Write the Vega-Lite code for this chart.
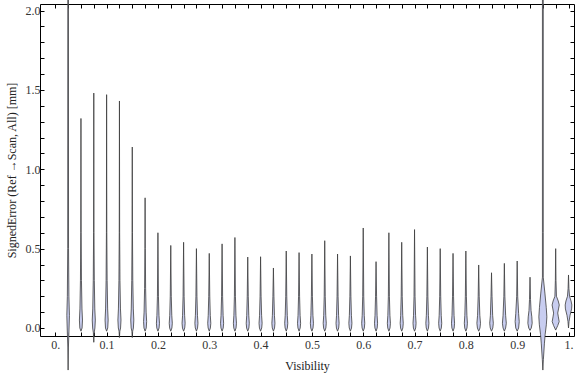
{
 "$schema": "https://vega.github.io/schema/vega-lite/v6.json",
 "width": 534, "height": 332,
 "autosize": "none",
 "padding": {"left": 40, "top": 4, "right": 2, "bottom": 39},
 "background": "white",
 "config": {"view": {"stroke": null}, "font": "Liberation Serif"},
 "datasets": {"violins": [
  {"v":0.025,"e":-0.265,"d":0},{"v":0.025,"e":-0.12,"d":0.0006},{"v":0.025,"e":0,"d":0.0018},{"v":0.025,"e":0.08,"d":0.0025},{"v":0.025,"e":0.2,"d":0.0015},{"v":0.025,"e":0.5,"d":0.0008},{"v":0.025,"e":2.07,"d":0.0006},
  {"v":0.05,"e":-0.02,"d":0},{"v":0.05,"e":0,"d":0.0022},{"v":0.05,"e":0.05,"d":0.003},{"v":0.05,"e":0.12,"d":0.002},{"v":0.05,"e":0.3,"d":0.001},{"v":0.05,"e":0.6,"d":0.0004},{"v":0.05,"e":1.32,"d":0},
  {"v":0.075,"e":-0.09,"d":0},{"v":0.075,"e":-0.03,"d":0.0008},{"v":0.075,"e":0,"d":0.0022},{"v":0.075,"e":0.05,"d":0.003},{"v":0.075,"e":0.12,"d":0.002},{"v":0.075,"e":0.3,"d":0.001},{"v":0.075,"e":0.6,"d":0.0004},{"v":0.075,"e":1.48,"d":0},
  {"v":0.1,"e":-0.02,"d":0},{"v":0.1,"e":0,"d":0.0022},{"v":0.1,"e":0.05,"d":0.003},{"v":0.1,"e":0.12,"d":0.002},{"v":0.1,"e":0.3,"d":0.001},{"v":0.1,"e":0.6,"d":0.0004},{"v":0.1,"e":1.47,"d":0},
  {"v":0.125,"e":-0.06,"d":0},{"v":0.125,"e":-0.02,"d":0.0008},{"v":0.125,"e":0,"d":0.0022},{"v":0.125,"e":0.05,"d":0.003},{"v":0.125,"e":0.12,"d":0.002},{"v":0.125,"e":0.3,"d":0.001},{"v":0.125,"e":0.6,"d":0.0004},{"v":0.125,"e":1.43,"d":0},
  {"v":0.15,"e":-0.06,"d":0},{"v":0.15,"e":-0.02,"d":0.0008},{"v":0.15,"e":0,"d":0.0022},{"v":0.15,"e":0.05,"d":0.003},{"v":0.15,"e":0.12,"d":0.002},{"v":0.15,"e":0.3,"d":0.001},{"v":0.15,"e":0.6,"d":0.0004},{"v":0.15,"e":1.14,"d":0},
  {"v":0.175,"e":-0.02,"d":0},{"v":0.175,"e":0,"d":0.0022},{"v":0.175,"e":0.04,"d":0.003},{"v":0.175,"e":0.1,"d":0.002},{"v":0.175,"e":0.25,"d":0.001},{"v":0.175,"e":0.5,"d":0.0004},{"v":0.175,"e":0.82,"d":0},
  {"v":0.2,"e":-0.02,"d":0},{"v":0.2,"e":0,"d":0.0022},{"v":0.2,"e":0.03,"d":0.003},{"v":0.2,"e":0.08,"d":0.002},{"v":0.2,"e":0.2,"d":0.001},{"v":0.2,"e":0.6,"d":0},
  {"v":0.225,"e":-0.02,"d":0},{"v":0.225,"e":0,"d":0.0022},{"v":0.225,"e":0.03,"d":0.003},{"v":0.225,"e":0.08,"d":0.002},{"v":0.225,"e":0.2,"d":0.001},{"v":0.225,"e":0.52,"d":0},
  {"v":0.25,"e":-0.02,"d":0},{"v":0.25,"e":0,"d":0.0022},{"v":0.25,"e":0.03,"d":0.003},{"v":0.25,"e":0.08,"d":0.002},{"v":0.25,"e":0.2,"d":0.001},{"v":0.25,"e":0.54,"d":0},
  {"v":0.275,"e":-0.02,"d":0},{"v":0.275,"e":0,"d":0.0022},{"v":0.275,"e":0.03,"d":0.003},{"v":0.275,"e":0.08,"d":0.002},{"v":0.275,"e":0.2,"d":0.001},{"v":0.275,"e":0.5,"d":0},
  {"v":0.3,"e":-0.02,"d":0},{"v":0.3,"e":0,"d":0.0022},{"v":0.3,"e":0.03,"d":0.003},{"v":0.3,"e":0.08,"d":0.002},{"v":0.3,"e":0.2,"d":0.001},{"v":0.3,"e":0.47,"d":0},
  {"v":0.325,"e":-0.02,"d":0},{"v":0.325,"e":0,"d":0.0022},{"v":0.325,"e":0.03,"d":0.003},{"v":0.325,"e":0.08,"d":0.002},{"v":0.325,"e":0.2,"d":0.001},{"v":0.325,"e":0.53,"d":0},
  {"v":0.35,"e":-0.02,"d":0},{"v":0.35,"e":0,"d":0.0022},{"v":0.35,"e":0.03,"d":0.003},{"v":0.35,"e":0.08,"d":0.002},{"v":0.35,"e":0.2,"d":0.001},{"v":0.35,"e":0.57,"d":0},
  {"v":0.375,"e":-0.02,"d":0},{"v":0.375,"e":0,"d":0.0022},{"v":0.375,"e":0.03,"d":0.003},{"v":0.375,"e":0.08,"d":0.002},{"v":0.375,"e":0.2,"d":0.001},{"v":0.375,"e":0.447,"d":0},
  {"v":0.4,"e":-0.02,"d":0},{"v":0.4,"e":0,"d":0.0022},{"v":0.4,"e":0.03,"d":0.003},{"v":0.4,"e":0.08,"d":0.002},{"v":0.4,"e":0.2,"d":0.001},{"v":0.4,"e":0.449,"d":0},
  {"v":0.425,"e":-0.02,"d":0},{"v":0.425,"e":0,"d":0.0022},{"v":0.425,"e":0.03,"d":0.003},{"v":0.425,"e":0.08,"d":0.002},{"v":0.425,"e":0.2,"d":0.001},{"v":0.425,"e":0.378,"d":0},
  {"v":0.45,"e":-0.02,"d":0},{"v":0.45,"e":0,"d":0.0022},{"v":0.45,"e":0.03,"d":0.003},{"v":0.45,"e":0.08,"d":0.002},{"v":0.45,"e":0.2,"d":0.001},{"v":0.45,"e":0.485,"d":0},
  {"v":0.475,"e":-0.02,"d":0},{"v":0.475,"e":0,"d":0.0022},{"v":0.475,"e":0.03,"d":0.003},{"v":0.475,"e":0.08,"d":0.002},{"v":0.475,"e":0.2,"d":0.001},{"v":0.475,"e":0.475,"d":0},
  {"v":0.5,"e":-0.02,"d":0},{"v":0.5,"e":0,"d":0.0022},{"v":0.5,"e":0.03,"d":0.003},{"v":0.5,"e":0.08,"d":0.002},{"v":0.5,"e":0.2,"d":0.001},{"v":0.5,"e":0.466,"d":0},
  {"v":0.525,"e":-0.02,"d":0},{"v":0.525,"e":0,"d":0.0022},{"v":0.525,"e":0.03,"d":0.003},{"v":0.525,"e":0.08,"d":0.002},{"v":0.525,"e":0.2,"d":0.001},{"v":0.525,"e":0.55,"d":0},
  {"v":0.55,"e":-0.02,"d":0},{"v":0.55,"e":0,"d":0.0022},{"v":0.55,"e":0.03,"d":0.003},{"v":0.55,"e":0.08,"d":0.002},{"v":0.55,"e":0.2,"d":0.001},{"v":0.55,"e":0.466,"d":0},
  {"v":0.575,"e":-0.02,"d":0},{"v":0.575,"e":0,"d":0.0022},{"v":0.575,"e":0.03,"d":0.003},{"v":0.575,"e":0.08,"d":0.002},{"v":0.575,"e":0.2,"d":0.001},{"v":0.575,"e":0.454,"d":0},
  {"v":0.6,"e":-0.02,"d":0},{"v":0.6,"e":0,"d":0.0022},{"v":0.6,"e":0.03,"d":0.003},{"v":0.6,"e":0.08,"d":0.002},{"v":0.6,"e":0.2,"d":0.001},{"v":0.6,"e":0.63,"d":0},
  {"v":0.625,"e":-0.02,"d":0},{"v":0.625,"e":0,"d":0.0022},{"v":0.625,"e":0.03,"d":0.003},{"v":0.625,"e":0.08,"d":0.002},{"v":0.625,"e":0.2,"d":0.001},{"v":0.625,"e":0.418,"d":0},
  {"v":0.65,"e":-0.02,"d":0},{"v":0.65,"e":0,"d":0.0022},{"v":0.65,"e":0.03,"d":0.003},{"v":0.65,"e":0.08,"d":0.002},{"v":0.65,"e":0.2,"d":0.001},{"v":0.65,"e":0.6,"d":0},
  {"v":0.675,"e":-0.02,"d":0},{"v":0.675,"e":0,"d":0.0022},{"v":0.675,"e":0.03,"d":0.003},{"v":0.675,"e":0.08,"d":0.002},{"v":0.675,"e":0.2,"d":0.001},{"v":0.675,"e":0.54,"d":0},
  {"v":0.7,"e":-0.02,"d":0},{"v":0.7,"e":0,"d":0.0022},{"v":0.7,"e":0.03,"d":0.003},{"v":0.7,"e":0.08,"d":0.002},{"v":0.7,"e":0.2,"d":0.001},{"v":0.7,"e":0.62,"d":0},
  {"v":0.725,"e":-0.02,"d":0},{"v":0.725,"e":0,"d":0.0022},{"v":0.725,"e":0.03,"d":0.003},{"v":0.725,"e":0.08,"d":0.002},{"v":0.725,"e":0.2,"d":0.001},{"v":0.725,"e":0.51,"d":0},
  {"v":0.75,"e":-0.02,"d":0},{"v":0.75,"e":0,"d":0.0022},{"v":0.75,"e":0.03,"d":0.003},{"v":0.75,"e":0.08,"d":0.002},{"v":0.75,"e":0.2,"d":0.001},{"v":0.75,"e":0.5,"d":0},
  {"v":0.775,"e":-0.02,"d":0},{"v":0.775,"e":0,"d":0.0022},{"v":0.775,"e":0.03,"d":0.003},{"v":0.775,"e":0.08,"d":0.002},{"v":0.775,"e":0.2,"d":0.001},{"v":0.775,"e":0.47,"d":0},
  {"v":0.8,"e":-0.02,"d":0},{"v":0.8,"e":0,"d":0.0022},{"v":0.8,"e":0.03,"d":0.003},{"v":0.8,"e":0.08,"d":0.002},{"v":0.8,"e":0.2,"d":0.001},{"v":0.8,"e":0.485,"d":0},
  {"v":0.825,"e":-0.02,"d":0},{"v":0.825,"e":0,"d":0.0025},{"v":0.825,"e":0.03,"d":0.0035},{"v":0.825,"e":0.08,"d":0.0022},{"v":0.825,"e":0.2,"d":0.001},{"v":0.825,"e":0.397,"d":0},
  {"v":0.85,"e":-0.02,"d":0},{"v":0.85,"e":0,"d":0.0025},{"v":0.85,"e":0.03,"d":0.0035},{"v":0.85,"e":0.08,"d":0.0022},{"v":0.85,"e":0.2,"d":0.001},{"v":0.85,"e":0.348,"d":0},
  {"v":0.875,"e":-0.02,"d":0},{"v":0.875,"e":0,"d":0.0025},{"v":0.875,"e":0.03,"d":0.0038},{"v":0.875,"e":0.08,"d":0.0025},{"v":0.875,"e":0.2,"d":0.001},{"v":0.875,"e":0.407,"d":0},
  {"v":0.9,"e":-0.02,"d":0},{"v":0.9,"e":0,"d":0.0028},{"v":0.9,"e":0.04,"d":0.004},{"v":0.9,"e":0.09,"d":0.0028},{"v":0.9,"e":0.2,"d":0.001},{"v":0.9,"e":0.422,"d":0},
  {"v":0.925,"e":-0.015,"d":0},{"v":0.925,"e":0,"d":0.0025},{"v":0.925,"e":0.03,"d":0.0042},{"v":0.925,"e":0.07,"d":0.0035},{"v":0.925,"e":0.11,"d":0.002},{"v":0.925,"e":0.18,"d":0.001},{"v":0.925,"e":0.32,"d":0},
  {"v":0.95,"e":-0.265,"d":0},{"v":0.95,"e":-0.2,"d":0.001},{"v":0.95,"e":-0.1,"d":0.003},{"v":0.95,"e":-0.04,"d":0.0045},{"v":0.95,"e":0.02,"d":0.0068},{"v":0.95,"e":0.07,"d":0.0078},{"v":0.95,"e":0.13,"d":0.0066},{"v":0.95,"e":0.22,"d":0.004},{"v":0.95,"e":0.32,"d":0.0008},{"v":0.95,"e":0.6,"d":0.0008},{"v":0.95,"e":2.07,"d":0.0008},
  {"v":0.975,"e":-0.013,"d":0},{"v":0.975,"e":0.015,"d":0.004},{"v":0.975,"e":0.04,"d":0.0068},{"v":0.975,"e":0.07,"d":0.0052},{"v":0.975,"e":0.094,"d":0.004},{"v":0.975,"e":0.12,"d":0.0055},{"v":0.975,"e":0.145,"d":0.007},{"v":0.975,"e":0.17,"d":0.005},{"v":0.975,"e":0.2,"d":0.0015},{"v":0.975,"e":0.3,"d":0.0006},{"v":0.975,"e":0.5,"d":0},
  {"v":1.0,"e":0.0,"d":0},{"v":1.0,"e":0.04,"d":0.001},{"v":1.0,"e":0.08,"d":0.003},{"v":1.0,"e":0.12,"d":0.006},{"v":1.0,"e":0.145,"d":0.0065},{"v":1.0,"e":0.17,"d":0.005},{"v":1.0,"e":0.2,"d":0.002},{"v":1.0,"e":0.25,"d":0.0008},{"v":1.0,"e":0.334,"d":0}
 ]},
 "data": {"name": "violins"},
 "transform": [
  {"calculate": "datum.v - datum.d", "as": "lo"},
  {"calculate": "datum.v + datum.d", "as": "hi"}
 ],
 "layer": [
  {
   "mark": {"type": "area", "orient": "horizontal", "fill": "#c8cdf0", "stroke": "#3c3c3c", "strokeWidth": 0.8, "clip": false},
   "encoding": {
    "y": {"field": "e", "type": "quantitative",
      "scale": {"domain": [-0.0504, 2.041], "nice": false, "zero": false},
      "axis": {"orient": "left", "values": [0,0.1,0.2,0.3,0.4,0.5,0.6,0.7,0.8,0.9,1.0,1.1,1.2,1.3,1.4,1.5,1.6,1.7,1.8,1.9,2.0],
        "labelExpr": "abs(datum.value*2 - round(datum.value*2)) < 0.001 ? format(datum.value, '.1f') : ''",
        "labelOverlap": false, "labelFlush": false, "grid": false,
        "tickSize": -4, "tickColor": "#000", "domainColor": "#000", "domainWidth": 1,
        "labelPadding": 4, "labelFont": "Liberation Serif", "labelFontSize": 12, "labelColor": "#333",
        "title": "SignedError (Ref →Scan, All) [mm]", "titleFont": "Liberation Serif", "titleFontSize": 12,
        "titleFontWeight": "normal", "titleColor": "#222", "titlePadding": 7}},
    "x": {"field": "lo", "type": "quantitative",
      "scale": {"domain": [-0.0298, 1.0107], "nice": false, "zero": false},
      "axis": {"orient": "bottom", "values": [0,0.025,0.05,0.075,0.1,0.125,0.15,0.175,0.2,0.225,0.25,0.275,0.3,0.325,0.35,0.375,0.4,0.425,0.45,0.475,0.5,0.525,0.55,0.575,0.6,0.625,0.65,0.675,0.7,0.725,0.75,0.775,0.8,0.825,0.85,0.875,0.9,0.925,0.95,0.975,1.0],
        "labelExpr": "abs(datum.value*10 - round(datum.value*10)) < 0.001 ? (datum.value == 0 ? '0.' : (datum.value == 1 ? '1.' : format(datum.value, '.1f'))) : ''",
        "labelOverlap": false, "labelFlush": false, "grid": false,
        "tickSize": -4, "tickColor": "#000", "domainColor": "#000", "domainWidth": 1,
        "labelPadding": 7, "labelFont": "Liberation Serif", "labelFontSize": 12, "labelColor": "#333",
        "title": "Visibility", "titleFont": "Liberation Serif", "titleFontSize": 12,
        "titleFontWeight": "normal", "titleColor": "#222", "titlePadding": 10}},
    "x2": {"field": "hi"},
    "detail": {"field": "v", "type": "nominal"}
   }
  },
  {
   "mark": {"type": "area", "orient": "horizontal", "opacity": 0},
   "encoding": {
    "y": {"field": "e", "type": "quantitative",
      "axis": {"orient": "right", "values": [0,0.1,0.2,0.3,0.4,0.5,0.6,0.7,0.8,0.9,1.0,1.1,1.2,1.3,1.4,1.5,1.6,1.7,1.8,1.9,2.0],
        "labels": false, "grid": false, "title": null,
        "tickSize": -4, "tickColor": "#000", "domainColor": "#000", "domainWidth": 1}},
    "x": {"field": "lo", "type": "quantitative",
      "axis": {"orient": "top", "values": [0,0.025,0.05,0.075,0.1,0.125,0.15,0.175,0.2,0.225,0.25,0.275,0.3,0.325,0.35,0.375,0.4,0.425,0.45,0.475,0.5,0.525,0.55,0.575,0.6,0.625,0.65,0.675,0.7,0.725,0.75,0.775,0.8,0.825,0.85,0.875,0.9,0.925,0.95,0.975,1.0],
        "labels": false, "grid": false, "title": null,
        "tickSize": -4, "tickColor": "#000", "domainColor": "#000", "domainWidth": 1}},
    "x2": {"field": "hi"},
    "detail": {"field": "v", "type": "nominal"}
   }
  }
 ],
 "resolve": {"axis": {"x": "independent", "y": "independent"}}
}
